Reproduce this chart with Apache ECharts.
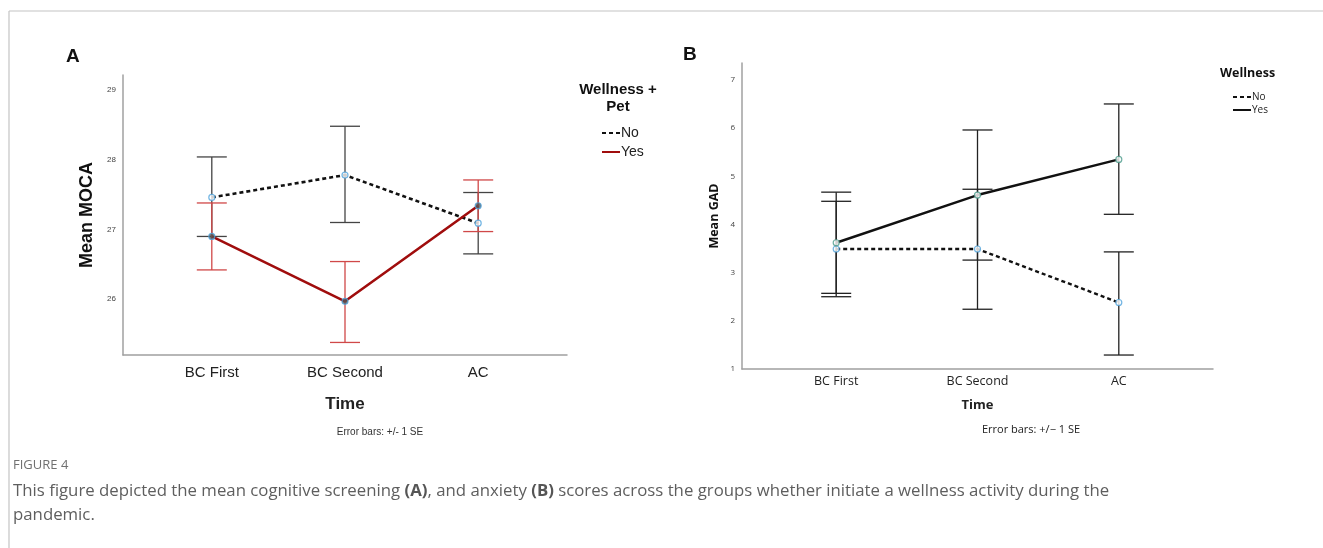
<!DOCTYPE html>
<html>
<head>
<meta charset="utf-8">
<script src="https://cdn.jsdelivr.net/npm/echarts@6/dist/echarts.min.js"></script>
<style>
html,body{margin:0;padding:0;background:#fff;}
#chart{width:1323px;height:548px;}
</style>
</head>
<body>
<div id="chart"></div>
<script>
// ---- data ----
const categories = ['BC First', 'BC Second', 'AC'];
const mocaTicks = [26, 27, 28, 29];
const gadTicks = [1, 2, 3, 4, 5, 6, 7];

const mocaNoMean  = [27.46, 27.78, 27.09];
const mocaNoLow   = [26.90, 27.10, 26.65];
const mocaNoHigh  = [28.04, 28.48, 27.53];
const mocaYesMean = [26.90, 25.97, 27.34];
const mocaYesLow  = [26.42, 25.38, 26.97];
const mocaYesHigh = [27.38, 26.54, 27.71];

const gadNoMean  = [3.49, 3.49, 2.38];
const gadNoLow   = [2.50, 2.24, 1.29];
const gadNoHigh  = [4.48, 4.73, 3.43];
const gadYesMean = [3.62, 4.61, 5.35];
const gadYesLow  = [2.57, 3.26, 4.21];
const gadYesHigh = [4.67, 5.96, 6.50];

// ---- helpers ----
const pts = arr => arr.map((v, i) => [i, v]);
const errs = (lo, hi) => lo.map((v, i) => [i, v, hi[i]]);
function errRender(capHalf, color, width) {
  return function (params, api) {
    const x = api.value(0);
    const lo = api.coord([x, api.value(1)]);
    const hi = api.coord([x, api.value(2)]);
    const st = { stroke: color, lineWidth: width };
    return {
      type: 'group',
      children: [
        { type: 'line', shape: { x1: lo[0], y1: lo[1], x2: hi[0], y2: hi[1] }, style: st },
        { type: 'line', shape: { x1: hi[0] - capHalf, y1: hi[1], x2: hi[0] + capHalf, y2: hi[1] }, style: st },
        { type: 'line', shape: { x1: lo[0] - capHalf, y1: lo[1], x2: lo[0] + capHalf, y2: lo[1] }, style: st }
      ]
    };
  };
}
const markerStyle = { color: '#fff', borderColor: '#4fa3dc', borderWidth: 1.2 };

const chart = echarts.init(document.getElementById('chart'), null, { renderer: 'canvas' });

const xAxisBase = (idx, fontSize, family, margin, nameSize, nameGap) => ({
  type: 'value', gridIndex: idx, min: -2 / 3, max: 8 / 3,
  name: 'Time', nameLocation: 'middle', nameGap: nameGap,
  nameTextStyle: { fontSize: nameSize, fontWeight: 'bold', color: '#222', fontFamily: family },
  axisLine: { show: true, onZero: false, lineStyle: { color: '#a0a0a0', width: 1.5 } },
  axisTick: { show: false },
  splitLine: { show: false },
  axisLabel: {
    customValues: [0, 1, 2], margin: margin, fontSize: fontSize, fontFamily: family,
    color: '#222', formatter: v => categories[Math.round(v)]
  }
});

const option = {
  animation: false,
  backgroundColor: '#fff',
  grid: [
    { left: 123, top: 75, width: 444, height: 280 },
    { left: 742, top: 63, width: 471, height: 306 }
  ],
  xAxis: [
    xAxisBase(0, 15, 'Liberation Sans', 10, 17, 41),
    xAxisBase(1, 12.5, 'Open Sans', 6, 13, 30)
  ],
  yAxis: [
    {
      type: 'value', gridIndex: 0, min: 25.2, max: 29.215,
      name: 'Mean MOCA', nameLocation: 'middle', nameGap: 27, nameRotate: 90,
      nameTextStyle: { fontSize: 18, fontWeight: 'bold', color: '#111', fontFamily: 'Liberation Sans' },
      axisLine: { show: true, onZero: false, lineStyle: { color: '#a0a0a0', width: 1.5 } },
      axisTick: { show: false }, splitLine: { show: false },
      axisLabel: { customValues: mocaTicks, fontSize: 8, color: '#444', margin: 7, fontFamily: 'Liberation Sans' }
    },
    {
      type: 'value', gridIndex: 1, min: 1, max: 7.35,
      name: 'Mean GAD', nameLocation: 'middle', nameGap: 21, nameRotate: 90,
      nameTextStyle: { fontSize: 12.5, fontWeight: 'bold', color: '#111', fontFamily: 'Open Sans' },
      axisLine: { show: true, onZero: false, lineStyle: { color: '#a0a0a0', width: 1.5 } },
      axisTick: { show: false }, splitLine: { show: false },
      axisLabel: { customValues: gadTicks, fontSize: 8, color: '#444', margin: 7, fontFamily: 'Open Sans' }
    }
  ],
  legend: [
    {
      data: ['No', 'Yes'].map(n => ({ name: n })), orient: 'vertical',
      left: 596, top: 121, itemWidth: 18, itemHeight: 10, itemGap: 5,
      itemStyle: { opacity: 0, borderWidth: 0 },
      textStyle: { fontSize: 14, color: '#222', fontFamily: 'Liberation Sans', padding: [0, 0, 0, -4] },
      selectedMode: false
    },
    {
      data: ['No ', 'Yes '].map(n => ({ name: n })), orient: 'vertical',
      left: 1227, top: 87, itemWidth: 18, itemHeight: 8, itemGap: 3,
      itemStyle: { opacity: 0, borderWidth: 0 },
      textStyle: { fontSize: 10, color: '#222', fontFamily: 'Open Sans', padding: [0, 0, 0, -4] },
      selectedMode: false
    }
  ],
  series: [
    // Panel A
    { type: 'custom', name: 'errNoA', xAxisIndex: 0, yAxisIndex: 0, renderItem: errRender(15, '#444', 1.3),
      data: errs(mocaNoLow, mocaNoHigh), encode: { x: 0, y: [1, 2] }, silent: true, z: 2 },
    { type: 'custom', name: 'errYesA', xAxisIndex: 0, yAxisIndex: 0, renderItem: errRender(15, '#d04848', 1.3),
      data: errs(mocaYesLow, mocaYesHigh), encode: { x: 0, y: [1, 2] }, silent: true, z: 3 },
    { type: 'line', name: 'No', xAxisIndex: 0, yAxisIndex: 0, data: pts(mocaNoMean), symbol: 'none',
      lineStyle: { color: '#111', width: 2.6, type: [4, 3] }, itemStyle: { color: '#111' }, z: 4 },
    { type: 'line', name: 'Yes', xAxisIndex: 0, yAxisIndex: 0, data: pts(mocaYesMean), symbol: 'none',
      lineStyle: { color: '#a00d0d', width: 2.6 }, itemStyle: { color: '#a00d0d' }, z: 4 },
    { type: 'scatter', name: 'mA1', xAxisIndex: 0, yAxisIndex: 0, data: pts(mocaNoMean), symbol: 'circle', symbolSize: 6,
      itemStyle: markerStyle, z: 5 },
    { type: 'scatter', name: 'mA2', xAxisIndex: 0, yAxisIndex: 0, data: pts(mocaYesMean), symbol: 'circle', symbolSize: 6,
      itemStyle: { color: '#555', borderColor: '#4fa3dc', borderWidth: 1.2 }, z: 5 },
    // Panel B
    { type: 'custom', name: 'errNoB', xAxisIndex: 1, yAxisIndex: 1, renderItem: errRender(15, '#222', 1.3),
      data: errs(gadNoLow, gadNoHigh), encode: { x: 0, y: [1, 2] }, silent: true, z: 2 },
    { type: 'custom', name: 'errYesB', xAxisIndex: 1, yAxisIndex: 1, renderItem: errRender(15, '#222', 1.3),
      data: errs(gadYesLow, gadYesHigh), encode: { x: 0, y: [1, 2] }, silent: true, z: 2 },
    { type: 'line', name: 'No ', xAxisIndex: 1, yAxisIndex: 1, data: pts(gadNoMean), symbol: 'none',
      lineStyle: { color: '#111', width: 2.4, type: [4, 3] }, itemStyle: { color: '#111' }, z: 4 },
    { type: 'line', name: 'Yes ', xAxisIndex: 1, yAxisIndex: 1, data: pts(gadYesMean), symbol: 'none',
      lineStyle: { color: '#111', width: 2.4 }, itemStyle: { color: '#111' }, z: 4 },
    { type: 'scatter', name: 'mB1', xAxisIndex: 1, yAxisIndex: 1, data: pts(gadNoMean), symbol: 'circle', symbolSize: 6,
      itemStyle: markerStyle, z: 5 },
    { type: 'scatter', name: 'mB2', xAxisIndex: 1, yAxisIndex: 1, data: pts(gadYesMean), symbol: 'circle', symbolSize: 6,
      itemStyle: { color: '#fff', borderColor: '#4a9a8a', borderWidth: 1.2 }, z: 5 }
  ],
  graphic: [
    // frame
    { type: 'line', shape: { x1: 9, y1: 11, x2: 1323, y2: 11 }, style: { stroke: '#c4c4c4', lineWidth: 1.2 } },
    { type: 'line', shape: { x1: 9, y1: 11, x2: 9, y2: 548 }, style: { stroke: '#c4c4c4', lineWidth: 1.2 } },
    // panel letters
    { type: 'text', x: 66, y: 47, style: { text: 'A', font: 'bold 19px "Liberation Sans"', fill: '#111' } },
    { type: 'text', x: 683, y: 45, style: { text: 'B', font: 'bold 19px "Liberation Sans"', fill: '#111' } },
    // legend titles
    { type: 'text', x: 618, y: 81, style: { text: 'Wellness +\nPet', font: 'bold 15px "Liberation Sans"', fill: '#111',
      align: 'center', lineHeight: 17 } },
    { type: 'text', x: 1220, y: 67, style: { text: 'Wellness', font: 'bold 12.5px "Open Sans"', fill: '#111' } },
    // footnotes
    { type: 'text', x: 380, y: 427, style: { text: 'Error bars: +/- 1 SE', font: '10px "Liberation Sans Narrow", "Liberation Sans"',
      fill: '#333', align: 'center' } },
    { type: 'text', x: 1031, y: 424, style: { text: 'Error bars: +/\u2212 1 SE', font: '11px "Open Sans"',
      fill: '#222', align: 'center' } },
    // caption
    { type: 'text', x: 13, y: 459, style: { text: 'FIGURE 4', font: '13px "Open Sans"', fill: '#707070' } },
    { type: 'text', x: 13, y: 483, style: {
      text: 'This figure depicted the mean cognitive screening {b|(A)}, and anxiety {b|(B)} scores across the groups whether initiate a wellness activity during the',
      font: '16.8px "Open Sans"', fill: '#5e5e5e',
      rich: { b: { fontWeight: 'bold', fontSize: 16.8, fontFamily: 'Open Sans', fill: '#555' } } } },
    { type: 'text', x: 13, y: 507, style: { text: 'pandemic.', font: '16.8px "Open Sans"', fill: '#5e5e5e' } }
  ]
};
chart.setOption(option);
</script>
</body>
</html>
